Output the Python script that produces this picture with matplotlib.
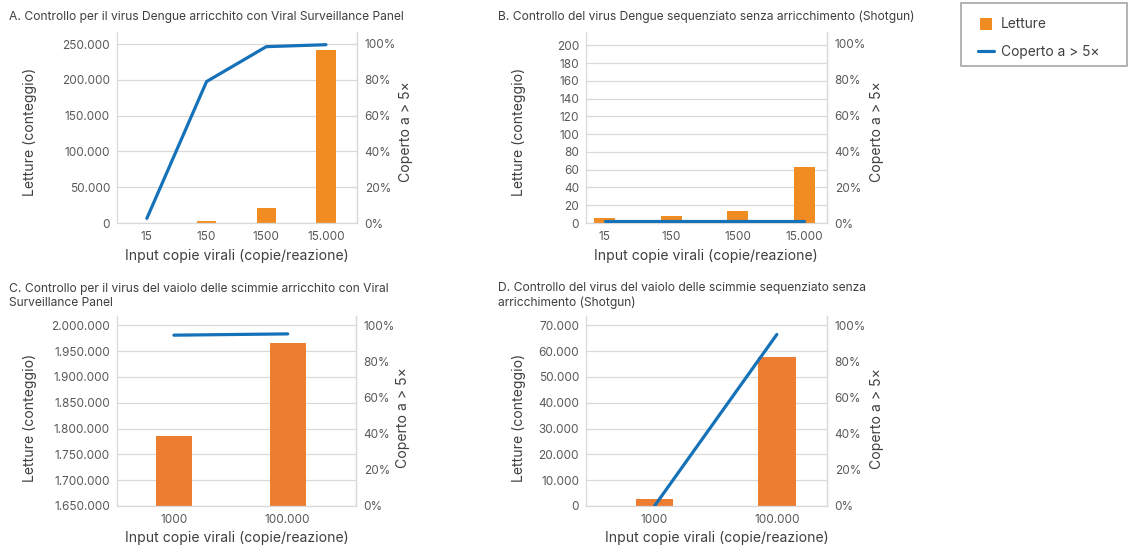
import matplotlib
matplotlib.use("Agg")
import matplotlib.pyplot as plt
from matplotlib.ticker import FuncFormatter, MultipleLocator
from matplotlib.lines import Line2D
from matplotlib.patches import Rectangle

# ---- data ----
dengue_copies = ["15", "150", "1500", "15.000"]
mpox_copies = ["1000", "100.000"]

a_reads = [600, 2800, 21000, 242000]
a_cov = [0.026, 0.79, 0.985, 0.996]

b_reads = [6, 8, 13, 63]
b_cov = [0.009, 0.009, 0.009, 0.009]

c_reads = [1786000, 1965000]
c_cov = [0.945, 0.952]

d_reads = [2600, 57900]
d_cov = [0.0, 0.949]

titles = [
    "A. Controllo per il virus Dengue arricchito con Viral Surveillance Panel",
    "B. Controllo del virus Dengue sequenziato senza arricchimento (Shotgun)",
    "C. Controllo per il virus del vaiolo delle scimmie arricchito con Viral\nSurveillance Panel",
    "D. Controllo del virus del vaiolo delle scimmie sequenziato senza\narricchimento (Shotgun)",
]
xlabel = "Input copie virali (copie/reazione)"
ylabel_left = "Letture (conteggio)"
ylabel_right = "Coperto a > 5×"
legend_labels = ["Letture", "Coperto a > 5×"]

# ---- style ----
plt.rcParams["font.family"] = ["Inter", "DejaVu Sans"]
ORANGE_AB = "#F08C22"
ORANGE_CD = "#ED7D31"
BLUE = "#1572B9"
GRID = "#D9D9D9"
TICK_C = "#595959"
TEXT_C = "#404040"

W, H = 1128, 552
fig = plt.figure(figsize=(W / 100, H / 100), dpi=100)


def px_rect(l, r, t, b):
    return [l / W, 1 - b / H, (r - l) / W, (b - t) / H]


def thousands(v, _pos=None):
    return f"{v:,.0f}".replace(",", ".")


def percent(v, _pos=None):
    return f"{v * 100:.0f}%"


def panel(box, cats, reads, cov, color, xlim, ylim, ystep, y2top, bar_w,
          ylab_px, y2lab_px, xlab_px):
    l, r, t, b = box
    ax = fig.add_axes(px_rect(l, r, t, b))
    x = list(range(len(cats)))
    base = ylim[0]
    ax.bar(x, [v - base for v in reads], bottom=base, width=bar_w,
           color=color, zorder=2)
    ax.set_xlim(*xlim)
    ax.set_ylim(*ylim)
    ax.yaxis.set_major_locator(MultipleLocator(ystep))
    ax.yaxis.set_major_formatter(FuncFormatter(thousands))
    ax.set_xticks(x)
    ax.set_xticklabels(cats)
    ax.grid(axis="y", color=GRID, lw=0.9, zorder=0)
    ax.set_axisbelow(True)
    ax.spines["top"].set_visible(False)
    for s in ("left", "right", "bottom"):
        ax.spines[s].set_color(GRID)
        ax.spines[s].set_linewidth(0.9)
    ax.tick_params(axis="both", length=0, colors=TICK_C, labelsize=8.5)
    ax.tick_params(axis="x", pad=6)
    ax.tick_params(axis="y", pad=5)

    ax2 = ax.twinx()
    line, = ax2.plot(x, cov, color=BLUE, lw=2.3, solid_capstyle="round",
                     zorder=3)
    ax2.set_ylim(0, y2top)
    ax2.set_yticks([0, 0.2, 0.4, 0.6, 0.8, 1.0])
    ax2.yaxis.set_major_formatter(FuncFormatter(percent))
    ax2.tick_params(axis="y", length=0, colors=TICK_C, labelsize=8.5, pad=5.5)
    for s in ("top", "left", "bottom"):
        ax2.spines[s].set_visible(False)
    ax2.spines["right"].set_color(GRID)
    ax2.spines["right"].set_linewidth(0.9)

    def to_ax(px, py):
        return (px - l) / (r - l), (b - py) / (b - t)

    ax.set_ylabel(ylabel_left, fontsize=10.1, color=TEXT_C, va="center")
    ax.yaxis.set_label_coords(*to_ax(*ylab_px))
    ax2.set_ylabel(ylabel_right, fontsize=10.1, color=TEXT_C, va="center",
                   rotation=90)
    ax2.yaxis.set_label_coords(*to_ax(*y2lab_px))
    ax.set_xlabel(xlabel, fontsize=10.1, color=TEXT_C, va="center")
    ax.xaxis.set_label_coords(*to_ax(*xlab_px))
    return ax, ax2, line


ax_a, ax_a2, line_a = panel(
    (117, 357, 32, 223), dengue_copies, a_reads, a_cov, ORANGE_AB,
    (-0.5, 3.52), (0, 266800), 50000, 1.067, 0.32,
    (30, 132), (406, 132), (237, 256))

ax_b, ax_b2, _ = panel(
    (586, 827, 32, 223), dengue_copies, b_reads, b_cov, ORANGE_AB,
    (-0.28, 3.34), (0, 215), 20, 1.067, 0.31,
    (519, 132), (877.5, 132), (706, 256))

ax_c, ax_c2, _ = panel(
    (117, 356, 316, 506), mpox_copies, c_reads, c_cov, ORANGE_CD,
    (-0.5, 1.6), (1650000, 2018000), 50000, 1.051, 0.313,
    (29.5, 417.5), (403, 418), (237, 538))

ax_d, ax_d2, _ = panel(
    (586, 827, 316, 506), mpox_copies, d_reads, d_cov, ORANGE_CD,
    (-0.56, 1.41), (0, 73600), 10000, 1.051, 0.31,
    (519, 417.5), (877, 418.5), (716.5, 538))

# panel titles
title_pos = [(9, 17), (498, 17), (9, 295.7), (498.5, 295.7)]
for (tx, ty), txt in zip(title_pos, titles):
    fig.text(tx / W, 1 - ty / H, txt, ha="left", va="center", fontsize=8.7,
             color=TEXT_C, linespacing=1.24)

# shared legend in a framed box at the top right
handles = [
    Line2D([], [], ls="none", marker="s", markersize=9.2,
           markerfacecolor=ORANGE_AB, markeredgewidth=0),
    line_a,
]
fig.legend(handles, legend_labels, loc="upper left",
           bbox_to_anchor=(977.7 / W, 1 - 17.5 / H), frameon=False,
           borderpad=0, borderaxespad=0, handlelength=1.2,
           handletextpad=0.48, labelspacing=1.0, fontsize=9.9,
           labelcolor=TEXT_C)
fig.patches.append(Rectangle((961 / W, 1 - 66 / H), (1127 - 961) / W,
                             (66 - 3.3) / H, transform=fig.transFigure,
                             fill=False, edgecolor="#A6A6A6", lw=1.2))

fig.savefig("out.png", dpi=100)
